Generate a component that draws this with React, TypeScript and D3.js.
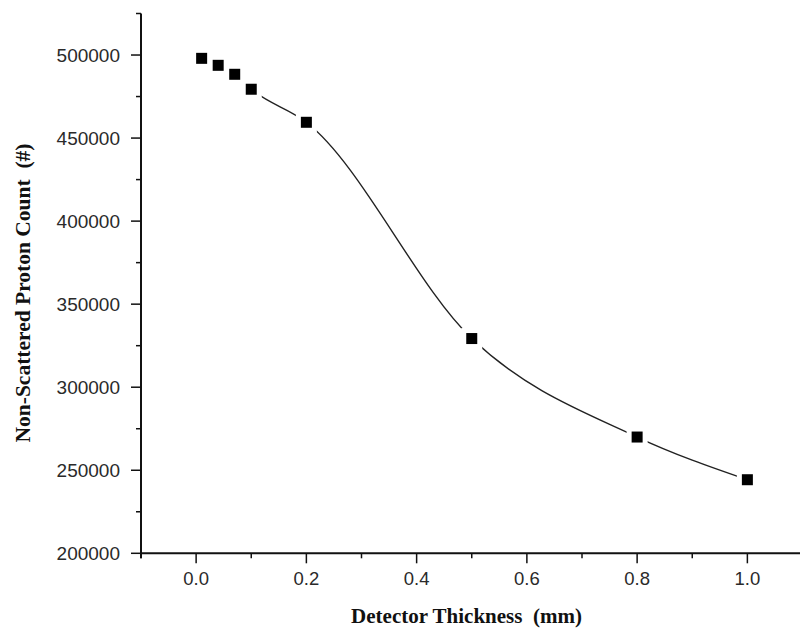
import React from "react";
import * as d3 from "d3";

const thickness = [0.01, 0.04, 0.07, 0.1, 0.2, 0.5, 0.8, 1.0];
const counts = [498000, 493800, 488400, 479400, 459500, 329300, 270000, 244300];
const xMajor = [0.0, 0.2, 0.4, 0.6, 0.8, 1.0];
const xMinor = [-0.1, 0.1, 0.3, 0.5, 0.7, 0.9];
const yMajor = [200000, 250000, 300000, 350000, 400000, 450000, 500000];
const yMinor = [225000, 275000, 325000, 375000, 425000, 475000, 525000];

const W = 800;
const H = 629;

export default function App() {
  const x = d3.scaleLinear().domain([-0.1, 1.1]).range([141, 802.5]);
  const y = d3.scaleLinear().domain([200000, 525000]).range([553.3, 13.5]);
  const x0 = x(-0.1);
  const y0 = y(200000);
  const pts: [number, number][] = thickness.map((t, i) => [x(t), y(counts[i])]);
  const line = d3.line().curve(d3.curveMonotoneX)(pts) || "";
  const sq = 11;
  const halo = 21;
  return (
    <svg width={W} height={H} style={{ position: "absolute", left: 0, top: 0, background: "#fff" }}>
      <rect x={0} y={0} width={W} height={H} fill="#fff" />
      <path d={line} fill="none" stroke="#222" strokeWidth={1.4} />
      {pts.map((p, i) => (
        <rect key={"h" + i} x={p[0] - halo / 2} y={p[1] - halo / 2} width={halo} height={halo} fill="#fff" />
      ))}
      {pts.map((p, i) => (
        <rect key={"s" + i} x={p[0] - sq / 2} y={p[1] - sq / 2} width={sq} height={sq} fill="#000" />
      ))}
      <line x1={x0} y1={y(525000)} x2={x0} y2={y0 + 5} stroke="#111" strokeWidth={2} />
      <line x1={x0} y1={y0} x2={W + 5} y2={y0} stroke="#111" strokeWidth={2} />
      {xMajor.map((v) => (
        <line key={"xM" + v} x1={x(v)} x2={x(v)} y1={y0} y2={y0 + 10} stroke="#111" strokeWidth={1.5} />
      ))}
      {xMinor.map((v) => (
        <line key={"xm" + v} x1={x(v)} x2={x(v)} y1={y0} y2={y0 + 5} stroke="#111" strokeWidth={1.5} />
      ))}
      {yMajor.map((v) => (
        <line key={"yM" + v} x1={x0 - 10} x2={x0} y1={y(v)} y2={y(v)} stroke="#111" strokeWidth={1.5} />
      ))}
      {yMinor.map((v) => (
        <line key={"ym" + v} x1={x0 - 5} x2={x0} y1={y(v)} y2={y(v)} stroke="#111" strokeWidth={1.5} />
      ))}
      {xMajor.map((v) => (
        <text key={"xl" + v} x={x(v)} y={585} textAnchor="middle" fontFamily="'Liberation Sans', Arial, sans-serif" fontSize={18.5} fill="#2a2a2a">
          {v.toFixed(1)}
        </text>
      ))}
      {yMajor.map((v) => (
        <text key={"yl" + v} x={120} y={y(v) + 6.5} textAnchor="end" fontFamily="'Liberation Sans', Arial, sans-serif" fontSize={19} fill="#2a2a2a">
          {String(v)}
        </text>
      ))}
      <text x={466.5} y={623} textAnchor="middle" fontFamily="'Liberation Serif', 'Times New Roman', serif" fontWeight="bold" fontSize={21} fill="#111" style={{ whiteSpace: "pre" }}>
        {"Detector Thickness  (mm)"}
      </text>
      <text transform="translate(30,293) rotate(-90)" textAnchor="middle" fontFamily="'Liberation Serif', 'Times New Roman', serif" fontWeight="bold" fontSize={21.5} fill="#111" style={{ whiteSpace: "pre" }}>
        {"Non-Scattered Proton Count  (#)"}
      </text>
    </svg>
  );
}
